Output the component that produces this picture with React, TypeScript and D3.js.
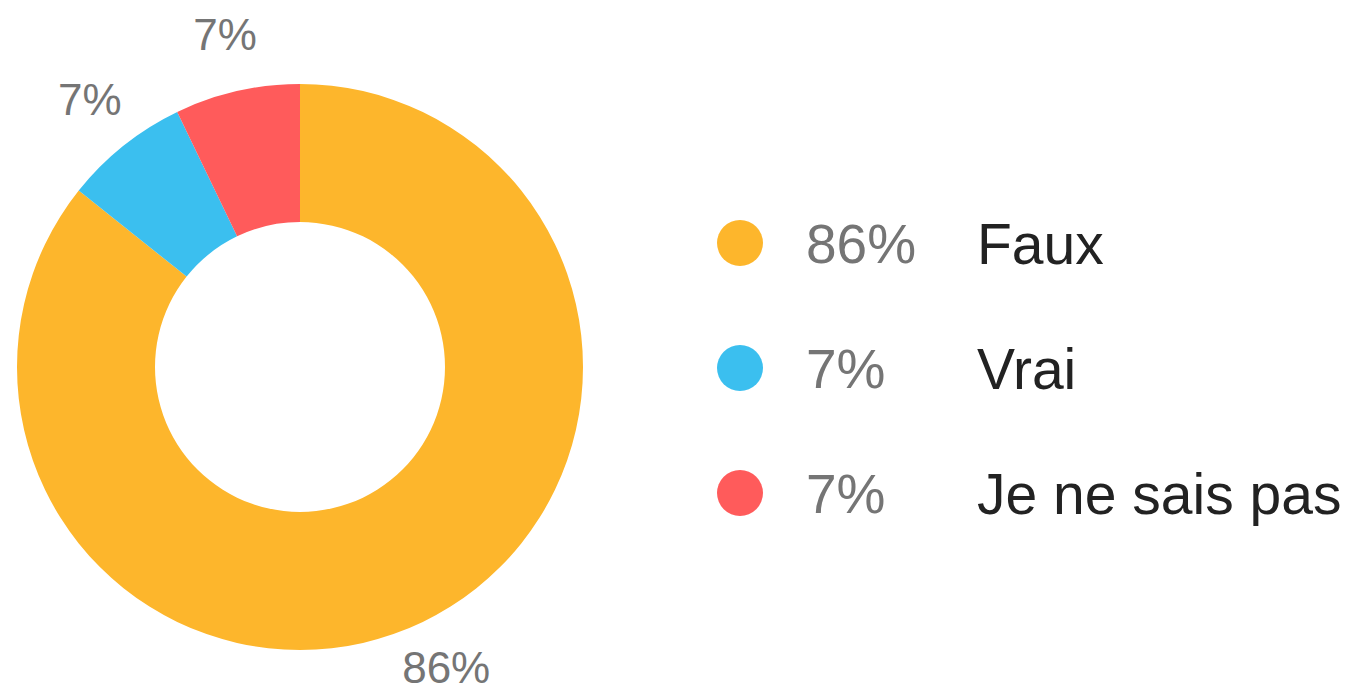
import React from 'react';
import * as d3 from 'd3';

const labels = ['Faux', 'Vrai', 'Je ne sais pas'];
const counts = [12, 1, 1];
const colors = ['#FDB62C', '#3BBFEF', '#FF5B5B'];

const width = 1356;
const height = 694;
const cx = 300;
const cy = 367;
const outerR = 283;
const innerR = 145;
const labelR = 337;
const font = '"Liberation Sans", Arial, sans-serif';

const pct = (v: number, total: number) => Math.round((v / total) * 100) + '%';

export default function App() {
  const total = d3.sum(counts);
  const pie = d3.pie<number>().sort(null).value(d => d);
  const arcs = pie(counts);
  const arc = d3.arc<d3.PieArcDatum<number>>().innerRadius(innerR).outerRadius(outerR);
  const labelArc = d3.arc<d3.PieArcDatum<number>>().innerRadius(labelR).outerRadius(labelR);

  const legendY = d3.scalePoint<number>().domain(d3.range(labels.length)).range([243, 493]);

  return (
    <svg width={width} height={height} style={{ position: 'absolute', left: 0, top: 0, background: '#fff' }}>
      <g transform={`translate(${cx},${cy})`}>
        {arcs.map((a, i) => (
          <path key={i} d={arc(a) || ''} fill={colors[i]} />
        ))}
        {arcs.map((a, i) => {
          const [x, y] = labelArc.centroid(a);
          return (
            <text key={'l' + i} x={x} y={y} dy="0.27em" textAnchor="middle"
              fontFamily={font} fontSize={44} fill="#757575">
              {pct(a.value, total)}
            </text>
          );
        })}
      </g>
      <g>
        {labels.map((l, i) => (
          <g key={l} transform={`translate(0,${legendY(i)})`}>
            <circle cx={740} cy={0} r={23} fill={colors[i]} />
            <text x={806} dy="0.36em" fontFamily={font} fontSize={55} fill="#757575">
              {pct(counts[i], total)}
            </text>
            <text x={977} dy="0.36em" fontFamily={font} fontSize={57} fill="#222">
              {l}
            </text>
          </g>
        ))}
      </g>
    </svg>
  );
}
